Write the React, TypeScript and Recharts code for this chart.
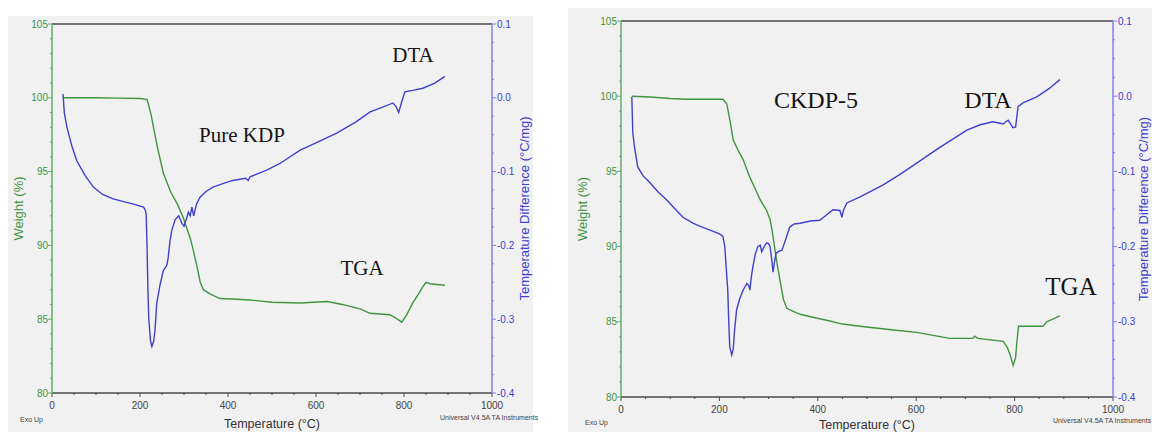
import React from "react";
import {
  LineChart,
  Line,
  XAxis,
  YAxis,
  ReferenceLine,
} from "recharts";

// Pure KDP thermogram
const kdpTgaTemp = [25, 100, 150, 200, 216, 225, 232, 240, 253, 270, 285, 298, 306, 315, 321, 330, 337, 344, 360, 382, 420, 450, 500, 564, 625, 660, 700, 723, 768, 785, 795, 806, 820, 835, 843, 850, 859, 875, 893];
const kdpTgaWeight = [100.0, 100.0, 99.98, 99.95, 99.9, 98.9, 97.8, 96.6, 94.9, 93.6, 92.8, 91.9, 91.2, 90.4, 89.7, 88.5, 87.5, 87.0, 86.7, 86.4, 86.35, 86.3, 86.15, 86.1, 86.2, 86.0, 85.7, 85.4, 85.3, 85.0, 84.8, 85.3, 86.1, 86.8, 87.2, 87.5, 87.4, 87.35, 87.3];
const kdpDtaTemp = [25, 28, 34, 45, 56, 75, 94, 115, 139, 165, 185, 208, 212, 214, 216, 218, 220, 224, 227, 231, 234, 238, 245, 253, 261, 264, 268, 272, 280, 288, 295, 300, 305, 310, 314, 318, 322, 328, 336, 350, 366, 390, 411, 440, 446, 450, 488, 518, 564, 600, 647, 690, 723, 750, 775, 782, 788, 795, 802, 820, 843, 870, 893];
const kdpDtaDiff = [0.005, -0.02, -0.04, -0.065, -0.085, -0.105, -0.121, -0.131, -0.137, -0.141, -0.144, -0.148, -0.152, -0.158, -0.2, -0.26, -0.3, -0.33, -0.337, -0.33, -0.316, -0.279, -0.255, -0.234, -0.227, -0.217, -0.195, -0.18, -0.165, -0.16, -0.17, -0.174, -0.165, -0.155, -0.16, -0.148, -0.16, -0.145, -0.135, -0.127, -0.121, -0.116, -0.112, -0.109, -0.112, -0.107, -0.098, -0.089, -0.071, -0.061, -0.048, -0.033, -0.019, -0.013, -0.007, -0.012, -0.02, -0.005, 0.008, 0.01, 0.013, 0.02, 0.029];

// CKDP-5 thermogram
const ckdpTgaTemp = [22, 60, 100, 130, 160, 207, 215, 222, 228, 238, 248, 262, 272, 283, 296, 303, 307, 312, 317, 324, 330, 337, 350, 364, 390, 418, 450, 486, 540, 601, 668, 715, 719, 725, 777, 785, 790, 797, 802, 805, 808, 831, 858, 865, 872, 892];
const ckdpTgaWeight = [100.0, 99.95, 99.85, 99.8, 99.8, 99.8, 99.5, 98.3, 97.1, 96.4, 95.8, 94.6, 93.9, 93.1, 92.4, 91.8, 91.1, 90.0, 88.9, 87.6, 86.5, 85.9, 85.7, 85.5, 85.3, 85.1, 84.85, 84.7, 84.5, 84.3, 83.9, 83.9, 84.05, 83.9, 83.7, 83.3, 82.9, 82.1, 82.6, 83.8, 84.7, 84.7, 84.7, 85.0, 85.1, 85.4];
const ckdpDtaTemp = [22, 24, 28, 34, 45, 59, 75, 93, 110, 126, 147, 165, 181, 200, 207, 211, 214, 217, 219, 221, 225, 228, 231, 235, 241, 248, 256, 260, 262, 265, 268, 273, 278, 283, 286, 291, 296, 300, 303, 306, 309, 312, 315, 321, 327, 335, 343, 352, 364, 385, 404, 431, 445, 449, 452, 459, 486, 533, 567, 601, 648, 703, 730, 756, 770, 777, 782, 787, 792, 797, 802, 805, 807, 817, 845, 870, 892];
const ckdpDtaDiff = [-0.001, -0.049, -0.07, -0.094, -0.106, -0.115, -0.127, -0.138, -0.15, -0.161, -0.169, -0.174, -0.178, -0.183, -0.186, -0.2, -0.23, -0.258, -0.3, -0.333, -0.344, -0.337, -0.31, -0.284, -0.27, -0.258, -0.249, -0.252, -0.258, -0.24, -0.227, -0.21, -0.2, -0.198, -0.207, -0.2, -0.195, -0.196, -0.2, -0.215, -0.234, -0.22, -0.209, -0.206, -0.205, -0.19, -0.174, -0.17, -0.169, -0.166, -0.165, -0.151, -0.152, -0.161, -0.152, -0.142, -0.134, -0.118, -0.104, -0.089, -0.068, -0.045, -0.038, -0.034, -0.036, -0.037, -0.034, -0.032, -0.037, -0.042, -0.041, -0.025, -0.014, -0.009, -0.001, 0.01, 0.022];

const tempTicks = Array.from({ length: 21 }, (_, i) => i * 50);
const weightTicks = Array.from({ length: 26 }, (_, i) => 80 + i);
const diffTicks = Array.from({ length: 21 }, (_, i) => (i - 16) / 40);

const GREEN = "#3f953f";
const GREEN_AXIS = "#63ad63";
const BLUE = "#4040cc";
const BLUE_AXIS = "#8080e6";
const GREY_AXIS = "#4a4a4a";
const BG = "#f1f1f1";

const pairs = (xs: number[], ys: number[]) => xs.map((t, i) => ({ t, v: ys[i] }));

const WeightTick = (props: any) => {
  const { x, y, payload } = props;
  const v = payload.value;
  const major = v % 5 === 0;
  return (
    <g>
      <line x1={x} x2={x - (major ? 4 : 2)} y1={y} y2={y} stroke={GREEN_AXIS} />
      {major && (
        <text x={x - 4} y={y} dy="0.35em" textAnchor="end" fill={GREEN} fontSize={10}>
          {v}
        </text>
      )}
    </g>
  );
};

const DiffTick = (props: any) => {
  const { x, y, payload } = props;
  const v = payload.value;
  const major = Math.round(v * 40) % 4 === 0;
  return (
    <g>
      <line x1={x} x2={x + (major ? 4 : 2)} y1={y} y2={y} stroke={BLUE_AXIS} />
      {major && (
        <text x={x + 5} y={y} dy="0.35em" textAnchor="start" fill={BLUE} fontSize={10}>
          {v.toFixed(1)}
        </text>
      )}
    </g>
  );
};

const TempTick = (props: any) => {
  const { x, y, payload } = props;
  const v = payload.value;
  const major = v % 200 === 0;
  return (
    <g>
      <line x1={x} x2={x} y1={y} y2={y + (major ? 4 : 2)} stroke={GREY_AXIS} />
      {major && (
        <text x={x} y={y + 12} dy="0.35em" textAnchor="middle" fill="#444" fontSize={10}>
          {v}
        </text>
      )}
    </g>
  );
};

type Note = { text: string; x: number; y: number; size: number };

type PanelProps = {
  left: number;
  top: number;
  width: number;
  height: number;
  marginTop: number;
  leftAxis: number;
  rightAxis: number;
  bottomAxis: number;
  weightTitleX: number;
  diffTitleX: number;
  tempTitleOffset: number;
  tga: { t: number; v: number }[];
  dta: { t: number; v: number }[];
  notes: Note[];
  exoY: number;
  exoX: number;
  brandX: number;
};

function Panel(p: PanelProps) {
  return (
    <div
      style={{
        position: "absolute",
        left: p.left,
        top: p.top,
        width: p.width,
        height: p.height,
        background: BG,
        fontFamily: "'Liberation Sans', Arial, sans-serif",
      }}
    >
      <LineChart
        width={p.width}
        height={p.height}
        margin={{ top: p.marginTop, right: 0, bottom: 0, left: 0 }}
      >
        <XAxis
          type="number"
          dataKey="t"
          domain={[0, 1000]}
          ticks={tempTicks}
          interval={0}
          height={p.bottomAxis}
          tickSize={0}
          tickMargin={0}
          tick={TempTick}
          stroke={GREY_AXIS}
          strokeWidth={1.5}
          allowDataOverflow
          label={{
            value: "Temperature (°C)",
            position: "insideBottom",
            offset: p.tempTitleOffset,
            fill: "#333",
            fontSize: 12.5,
          }}
        />
        <YAxis
          yAxisId="w"
          type="number"
          domain={[80, 105]}
          ticks={weightTicks}
          interval={0}
          width={p.leftAxis}
          tickSize={0}
          tickMargin={0}
          tick={WeightTick}
          stroke={GREEN_AXIS}
          strokeWidth={1.5}
          label={{
            value: "Weight (%)",
            angle: -90,
            position: "insideLeft",
            offset: p.weightTitleX,
            fill: GREEN,
            fontSize: 13,
            style: { textAnchor: "middle" },
          }}
        />
        <YAxis
          yAxisId="d"
          orientation="right"
          type="number"
          domain={[-0.4, 0.1]}
          ticks={diffTicks}
          interval={0}
          width={p.rightAxis}
          tickSize={0}
          tickMargin={0}
          tick={DiffTick}
          stroke={BLUE_AXIS}
          strokeWidth={1.5}
          label={{
            value: "Temperature Difference (°C/mg)",
            angle: -90,
            position: "insideRight",
            offset: p.diffTitleX,
            fill: BLUE,
            fontSize: 13,
            style: { textAnchor: "middle" },
          }}
        />
        <ReferenceLine yAxisId="w" y={105} stroke={GREY_AXIS} strokeWidth={1.5} />
        <Line
          yAxisId="w"
          data={p.tga}
          dataKey="v"
          type="linear"
          stroke={GREEN}
          strokeWidth={1.4}
          dot={false}
          isAnimationActive={false}
        />
        <Line
          yAxisId="d"
          data={p.dta}
          dataKey="v"
          type="linear"
          stroke={BLUE}
          strokeWidth={1.4}
          dot={false}
          isAnimationActive={false}
        />
      </LineChart>
      {p.notes.map((n) => (
        <div
          key={n.text}
          style={{
            position: "absolute",
            left: n.x - p.left,
            top: n.y - p.top,
            transform: "translate(-50%, -50%)",
            fontFamily: "'Liberation Serif', 'Times New Roman', serif",
            fontSize: n.size,
            color: "#151515",
            whiteSpace: "nowrap",
          }}
        >
          {n.text}
        </div>
      ))}
      <div
        style={{
          position: "absolute",
          left: p.exoX - p.left,
          top: p.exoY - p.top - 4,
          fontSize: 7,
          color: "#444",
          whiteSpace: "nowrap",
        }}
      >
        Exo Up
      </div>
      <div
        style={{
          position: "absolute",
          left: p.brandX - p.left,
          top: p.exoY - p.top - 6,
          fontSize: 7,
          color: "#444",
          whiteSpace: "nowrap",
        }}
      >
        Universal V4.5A TA Instruments
      </div>
    </div>
  );
}

export default function App() {
  return (
    <div
      style={{
        position: "absolute",
        left: 0,
        top: 0,
        width: 1152,
        height: 432,
        background: "#ffffff",
        overflow: "hidden",
      }}
    >
      <Panel
        left={8}
        top={16}
        width={525}
        height={416}
        marginTop={8}
        leftAxis={44}
        rightAxis={41}
        bottomAxis={39}
        weightTitleX={10}
        diffTitleX={9}
        tempTitleOffset={4}
        tga={pairs(kdpTgaTemp, kdpTgaWeight)}
        dta={pairs(kdpDtaTemp, kdpDtaDiff)}
        notes={[
          { text: "Pure KDP", x: 242, y: 135, size: 21 },
          { text: "DTA", x: 413, y: 55, size: 21 },
          { text: "TGA", x: 362, y: 268, size: 21 },
        ]}
        exoX={20}
        exoY={420}
        brandX={440}
      />
      <Panel
        left={568}
        top={8}
        width={584}
        height={424}
        marginTop={13}
        leftAxis={53}
        rightAxis={39}
        bottomAxis={35}
        weightTitleX={14}
        diffTitleX={9}
        tempTitleOffset={3}
        tga={pairs(ckdpTgaTemp, ckdpTgaWeight)}
        dta={pairs(ckdpDtaTemp, ckdpDtaDiff)}
        notes={[
          { text: "CKDP-5", x: 816, y: 100, size: 24 },
          { text: "DTA", x: 988, y: 100, size: 24 },
          { text: "TGA", x: 1071, y: 287, size: 25 },
        ]}
        exoX={585}
        exoY={423}
        brandX={1053}
      />
    </div>
  );
}
